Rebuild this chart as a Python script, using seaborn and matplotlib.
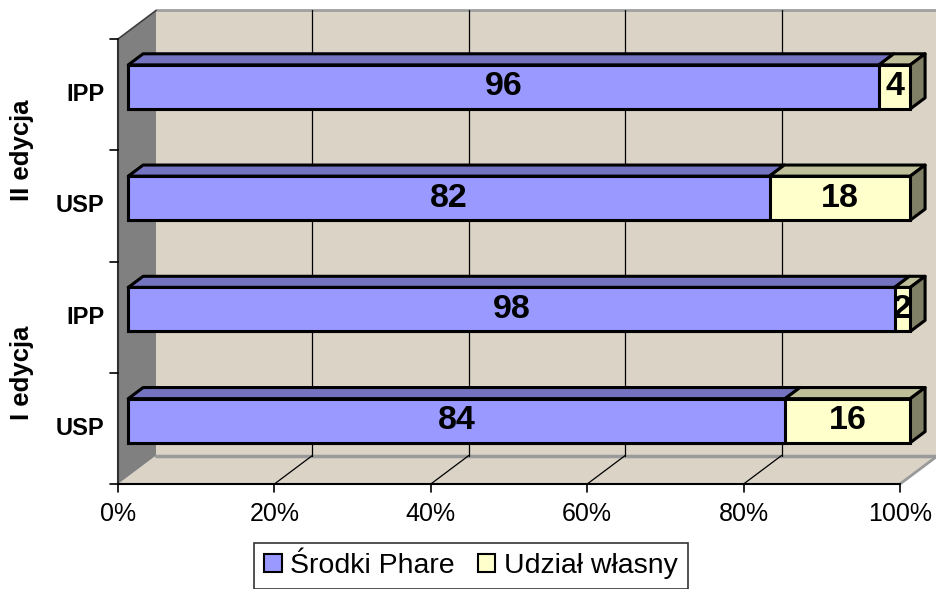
import numpy as np
import pandas as pd
import seaborn as sns
import matplotlib.pyplot as plt
from matplotlib.patches import Polygon, Patch
from matplotlib.transforms import Affine2D

# data (bottom to top)
groups = ["I edycja", "I edycja", "II edycja", "II edycja"]
programs = ["USP", "IPP", "USP", "IPP"]
phare = [84, 98, 82, 96]
own = [16, 2, 18, 4]
xticks = [0, 20, 40, 60, 80, 100]
series_names = ["Środki Phare", "Udział własny"]

sns.set_style("white")
plt.rcParams["font.family"] = ["Liberation Sans", "DejaVu Sans"]
plt.rcParams["text.color"] = "black"

df = pd.DataFrame({"group": groups, "program": programs, "phare": phare, "own": own})
df["key"] = df["program"] + " " + df["group"]
df["total"] = df["phare"] + df["own"]

blue, blue_top = "#9999ff", "#7373bf"
yel, yel_top, yel_side = "#ffffcc", "#bfbf99", "#808066"
wall = "#dad3c6"

# geometry (data units: x in percent, y in category index)
px_x = 7.82       # pixels per percent
px_y = 111.25     # pixels per category
DX, DY = 38 / px_x, 28.5 / px_y          # full depth of the 3d box
bx, by = 0.27 * DX, 0.27 * DY             # bar front offset
tdx, tdy = 0.39 * DX, 0.39 * DY           # bar depth
bar_h = 0.396
n = len(df)
y0, y1 = -0.5, n - 0.5

fig = plt.figure(figsize=(9.36, 5.89), dpi=100)
ax = fig.add_axes([0, 0, 1, 1])

# walls and floor
ax.add_patch(Polygon([(DX, y0 + DY), (100 + DX, y0 + DY), (100 + DX, y1 + DY), (DX, y1 + DY)],
                     closed=True, fc=wall, ec="none", zorder=0))
ax.add_patch(Polygon([(0, y0), (100, y0), (100 + DX, y0 + DY), (DX, y0 + DY)],
                     closed=True, fc=wall, ec="none", zorder=0))
ax.add_patch(Polygon([(0, y0), (DX, y0 + DY), (DX, y1 + DY), (0, y1)],
                     closed=True, fc="#808080", ec="none", zorder=0.2))
ax.plot([DX, 110], [y1 + DY, y1 + DY], color="#a0a0a0", lw=2, zorder=0.3)
ax.plot([DX, 110], [y0 + DY, y0 + DY], color="#9a9a9a", lw=2.5, zorder=0.3)
ax.plot([100, 100 + DX], [y0, y0 + DY], color="#9a9a9a", lw=2, zorder=0.3)
ax.plot([0, DX], [y1, y1 + DY], color="#404040", lw=1.2, zorder=0.3)

# gridlines on back wall and floor
for t in xticks[1:-1]:
    ax.plot([t + DX, t + DX], [y0 + DY, y1 + DY], color="black", lw=0.9, zorder=0.5)
    ax.plot([t, t + DX], [y0, y0 + DY], color="black", lw=0.9, zorder=0.5)

# axis lines and ticks
ax.plot([0, 0], [y0, y1], color="#303030", lw=1.5, zorder=0.6)
ax.plot([0, 100], [y0, y0], color="black", lw=1.5, zorder=0.6)
for k in range(n + 1):
    ax.plot([-8 / px_x, 0], [y0 + k, y0 + k], color="black", lw=1.2)
for t in xticks:
    ax.plot([t, t], [y0, y0 - 8 / px_y], color="black", lw=1.2)
    ax.text(t, y0 - 30 / px_y, f"{t}%", ha="center", va="center", fontsize=18)

# front faces via seaborn
before = len(ax.patches)
sns.barplot(data=df, x="total", y="key", order=df["key"], orient="h", color=yel,
            saturation=1, width=bar_h, edgecolor="black", linewidth=2.2,
            errorbar=None, ax=ax)
sns.barplot(data=df, x="phare", y="key", order=df["key"], orient="h", color=blue,
            saturation=1, width=bar_h, edgecolor="black", linewidth=2.2,
            errorbar=None, ax=ax)
shift = Affine2D().translate(bx, by) + ax.transData
for p in ax.patches[before:]:
    p.set_transform(shift)
    p.set_zorder(2)

# 3d top and side faces, value labels
for i, row in df.iterrows():
    top = i + by + bar_h / 2
    bot = i + by - bar_h / 2
    segs = [(0, row.phare, blue_top), (row.phare, row.total, yel_top)]
    for a, b, c in segs:
        ax.add_patch(Polygon([(bx + a, top), (bx + b, top), (bx + b + tdx, top + tdy),
                              (bx + a + tdx, top + tdy)], closed=True, fc=c,
                             ec="black", lw=2.2, joinstyle="round", zorder=1.9))
    ax.add_patch(Polygon([(bx + row.total, bot), (bx + row.total, top),
                          (bx + row.total + tdx, top + tdy), (bx + row.total + tdx, bot + tdy)],
                         closed=True, fc=yel_side, ec="black", lw=2.2, joinstyle="round", zorder=1.9))
    ax.text(bx + row.phare / 2, i + by, str(row.phare), ha="center", va="center",
            fontsize=24.5, fontweight="bold", zorder=3)
    ax.text(bx + row.phare + row.own / 2, i + by, str(row.own), ha="center", va="center",
            fontsize=24.5, fontweight="bold", zorder=3)
    ax.text(-14 / px_x, i, row.program, ha="right", va="center", fontsize=17, fontweight="bold")

# group labels
for g in pd.unique(df["group"]):
    idx = df.index[df["group"] == g]
    ax.text(-96 / px_x, idx.to_numpy().mean(), g, rotation=90, ha="center", va="center",
            fontsize=18.5, fontweight="bold")

ax.set_xlim(-118 / px_x, (936 - 118) / px_x)
ax.set_ylim(y0 - (589 - 484) / px_y, y0 + 484 / px_y)
ax.set_axis_off()

handles = [Patch(fc=blue, ec="black", lw=1.5), Patch(fc=yel, ec="black", lw=1.5)]
leg = fig.legend(handles, series_names, loc="upper left", bbox_to_anchor=(254 / 936, 1 - 543 / 589),
                 fontsize=20.5, frameon=True, fancybox=False, ncol=2, handlelength=0.62,
                 handleheight=0.62, handletextpad=0.3, columnspacing=0.8, borderpad=0.35,
                 borderaxespad=0)
leg.get_frame().set_edgecolor("black")
leg.get_frame().set_linewidth(1.2)

fig.savefig("out.png", dpi=100)
